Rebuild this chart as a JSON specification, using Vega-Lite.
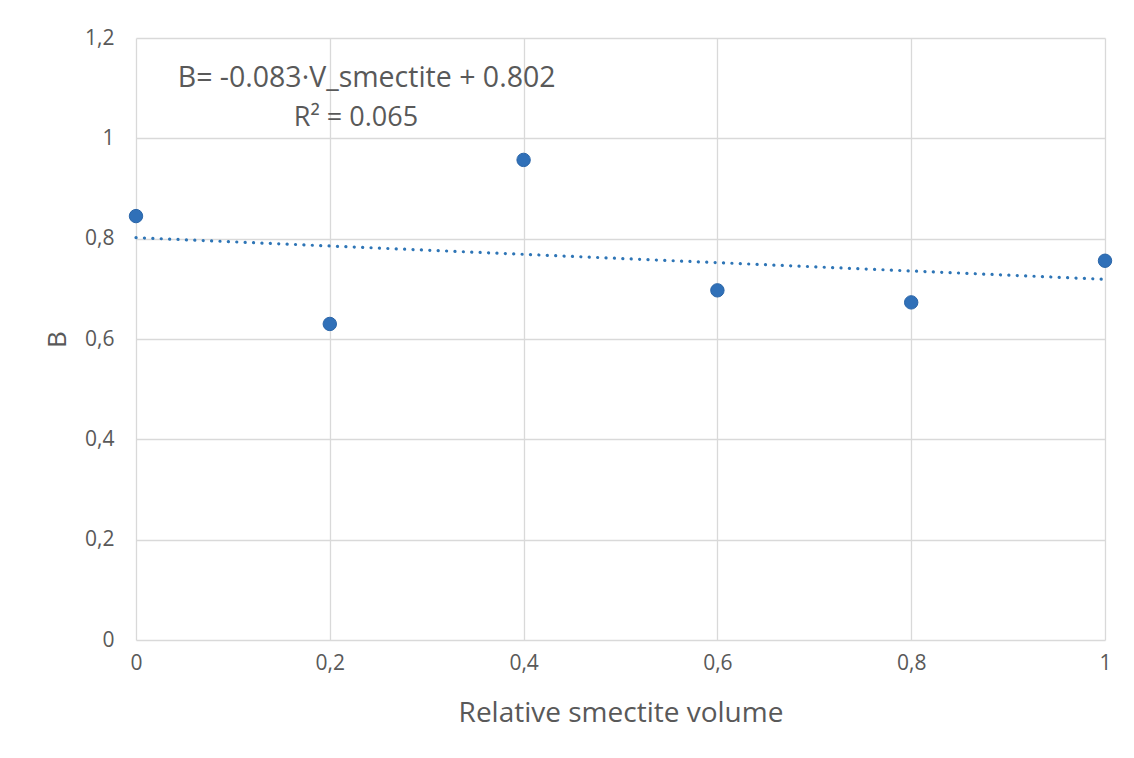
{
  "$schema": "https://vega.github.io/schema/vega-lite/v6.json",
  "autosize": "none",
  "width": 969,
  "height": 602,
  "padding": {"left": 136, "top": 38, "right": 29, "bottom": 118},
  "background": "white",
  "config": {
    "view": {"stroke": null},
    "font": "Open Sans",
    "axis": {
      "grid": true,
      "gridColor": "#D9D9D9",
      "gridWidth": 1.3,
      "domain": false,
      "ticks": false,
      "labelFlush": false,
      "labelColor": "#595959",
      "titleColor": "#595959",
      "labelFont": "Open Sans",
      "titleFont": "Open Sans",
      "labelFontSize": 21,
      "titleFontSize": 28,
      "titleFontWeight": "normal"
    }
  },
  "datasets": {
    "points": [
      {"V": 0, "B": 0.845},
      {"V": 0.2, "B": 0.63},
      {"V": 0.4, "B": 0.957},
      {"V": 0.6, "B": 0.697},
      {"V": 0.8, "B": 0.673},
      {"V": 1, "B": 0.756}
    ],
    "trend": [
      {"V": 0, "B": 0.802},
      {"V": 1, "B": 0.719}
    ],
    "labels": [
      {"label": "B= -0.083·V_smectite + 0.802", "row": 1},
      {"label": "R² = 0.065", "row": 2}
    ]
  },
  "layer": [
    {
      "data": {"name": "trend"},
      "mark": {"type": "line", "color": "#2E75B6", "strokeWidth": 3.2, "strokeDash": [0.1, 8.3], "strokeCap": "round"},
      "encoding": {
        "x": {
          "field": "V", "type": "quantitative",
          "scale": {"domain": [0, 1], "nice": false, "zero": false},
          "axis": {
            "title": "Relative smectite volume",
            "values": [0, 0.2, 0.4, 0.6, 0.8, 1],
            "labelExpr": "replace(format(datum.value, '~g'), '.', ',')",
            "labelPadding": 12,
            "titlePadding": 26
          }
        },
        "y": {
          "field": "B", "type": "quantitative",
          "scale": {"domain": [0, 1.2], "nice": false},
          "axis": {
            "title": "B",
            "values": [0, 0.2, 0.4, 0.6, 0.8, 1, 1.2],
            "labelExpr": "replace(format(datum.value, '~g'), '.', ',')",
            "labelPadding": 22,
            "titlePadding": 14,
            "titleFontSize": 26
          }
        }
      }
    },
    {
      "data": {"name": "points"},
      "mark": {"type": "circle", "size": 180, "color": "#3070B8", "opacity": 1, "stroke": "#2A65A8", "strokeWidth": 1},
      "encoding": {
        "x": {"field": "V", "type": "quantitative"},
        "y": {"field": "B", "type": "quantitative"}
      }
    },
    {
      "data": {"name": "labels"},
      "transform": [{"filter": "datum.row == 1"}],
      "mark": {"type": "text", "fontSize": 28.5, "color": "#595959", "align": "center", "baseline": "middle", "font": "Open Sans"},
      "encoding": {
        "text": {"field": "label"},
        "x": {"datum": 0.238, "type": "quantitative"},
        "y": {"datum": 1.12, "type": "quantitative"}
      }
    },
    {
      "data": {"name": "labels"},
      "transform": [{"filter": "datum.row == 2"}],
      "mark": {"type": "text", "fontSize": 27, "color": "#595959", "align": "center", "baseline": "middle", "font": "Open Sans"},
      "encoding": {
        "text": {"field": "label"},
        "x": {"datum": 0.227, "type": "quantitative"},
        "y": {"datum": 1.04, "type": "quantitative"}
      }
    }
  ]
}
